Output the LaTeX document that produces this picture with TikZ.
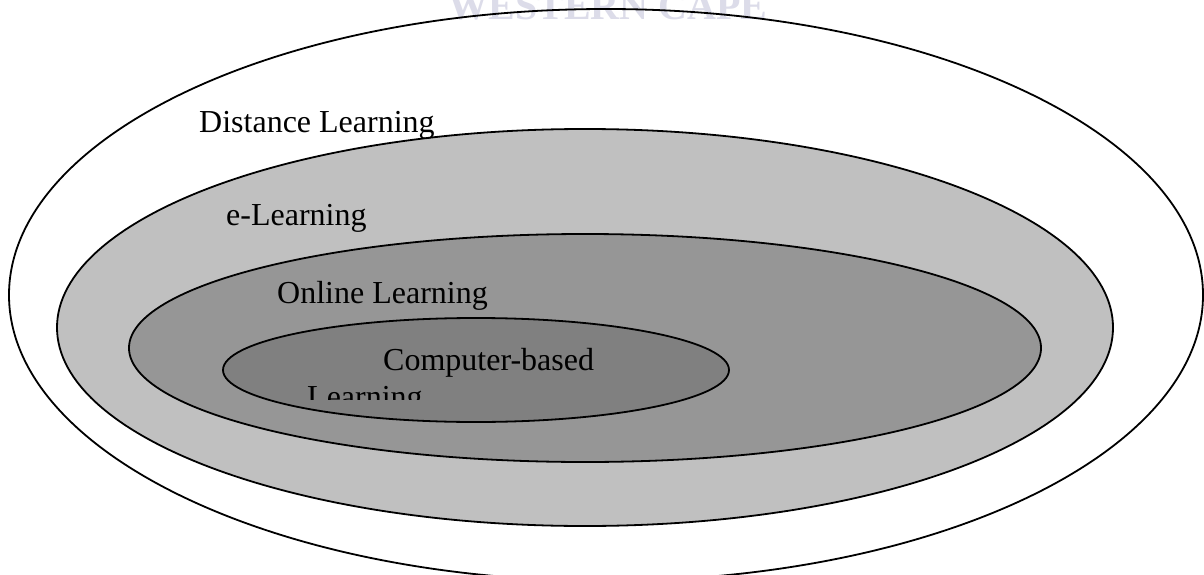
\documentclass[tikz,border=0pt]{standalone}
\usepackage{fontspec}
\setmainfont{Liberation Serif}
\begin{document}
\begin{tikzpicture}[x=1pt,y=-1pt,
  ring/.style={draw=black,line width=1.8pt},
  label/.style={anchor=base west,inner sep=0pt,font=\fontsize{32}{37}\selectfont},
  mark text/.style={anchor=base,inner sep=0pt,text=wmgray,
    font=\fontsize{40}{44}\selectfont\bfseries}]
\definecolor{wmgray}{HTML}{DCDCE9}
\definecolor{elgray}{HTML}{C0C0C0}
\definecolor{olgray}{HTML}{969696}
\definecolor{cbgray}{HTML}{808080}
\useasboundingbox (0,0) rectangle (1204,575);
\clip (0,0) rectangle (1204,575);
\fill[white] (0,0) rectangle (1204,575);

% faint heading behind the rings
\node[mark text] (wm) at (608,20) {WESTERN CAPE};

% nested rings, outermost first
\draw[ring] (606,295) ellipse [x radius=597pt, y radius=286pt];
\draw[ring,fill=elgray] (585,327.5) ellipse [x radius=528pt, y radius=198.5pt];
\draw[ring,fill=olgray] (585,348) ellipse [x radius=456pt, y radius=114pt];
\draw[ring,fill=cbgray] (476,370) ellipse [x radius=253pt, y radius=52pt];

% ring labels
\node[label] (dl) at (199,132) {Distance Learning};
\node[label] (el) at (226,225) {e-Learning};
\node[label] (ol) at (277,303) {Online Learning};
\node[label] (cb) at (383,370) {Computer-based};
\begin{scope}
  \clip (0,0) rectangle (1204,399);
  \node[label] (cbl) at (307,407) {Learning};
\end{scope}
\end{tikzpicture}
\end{document}
